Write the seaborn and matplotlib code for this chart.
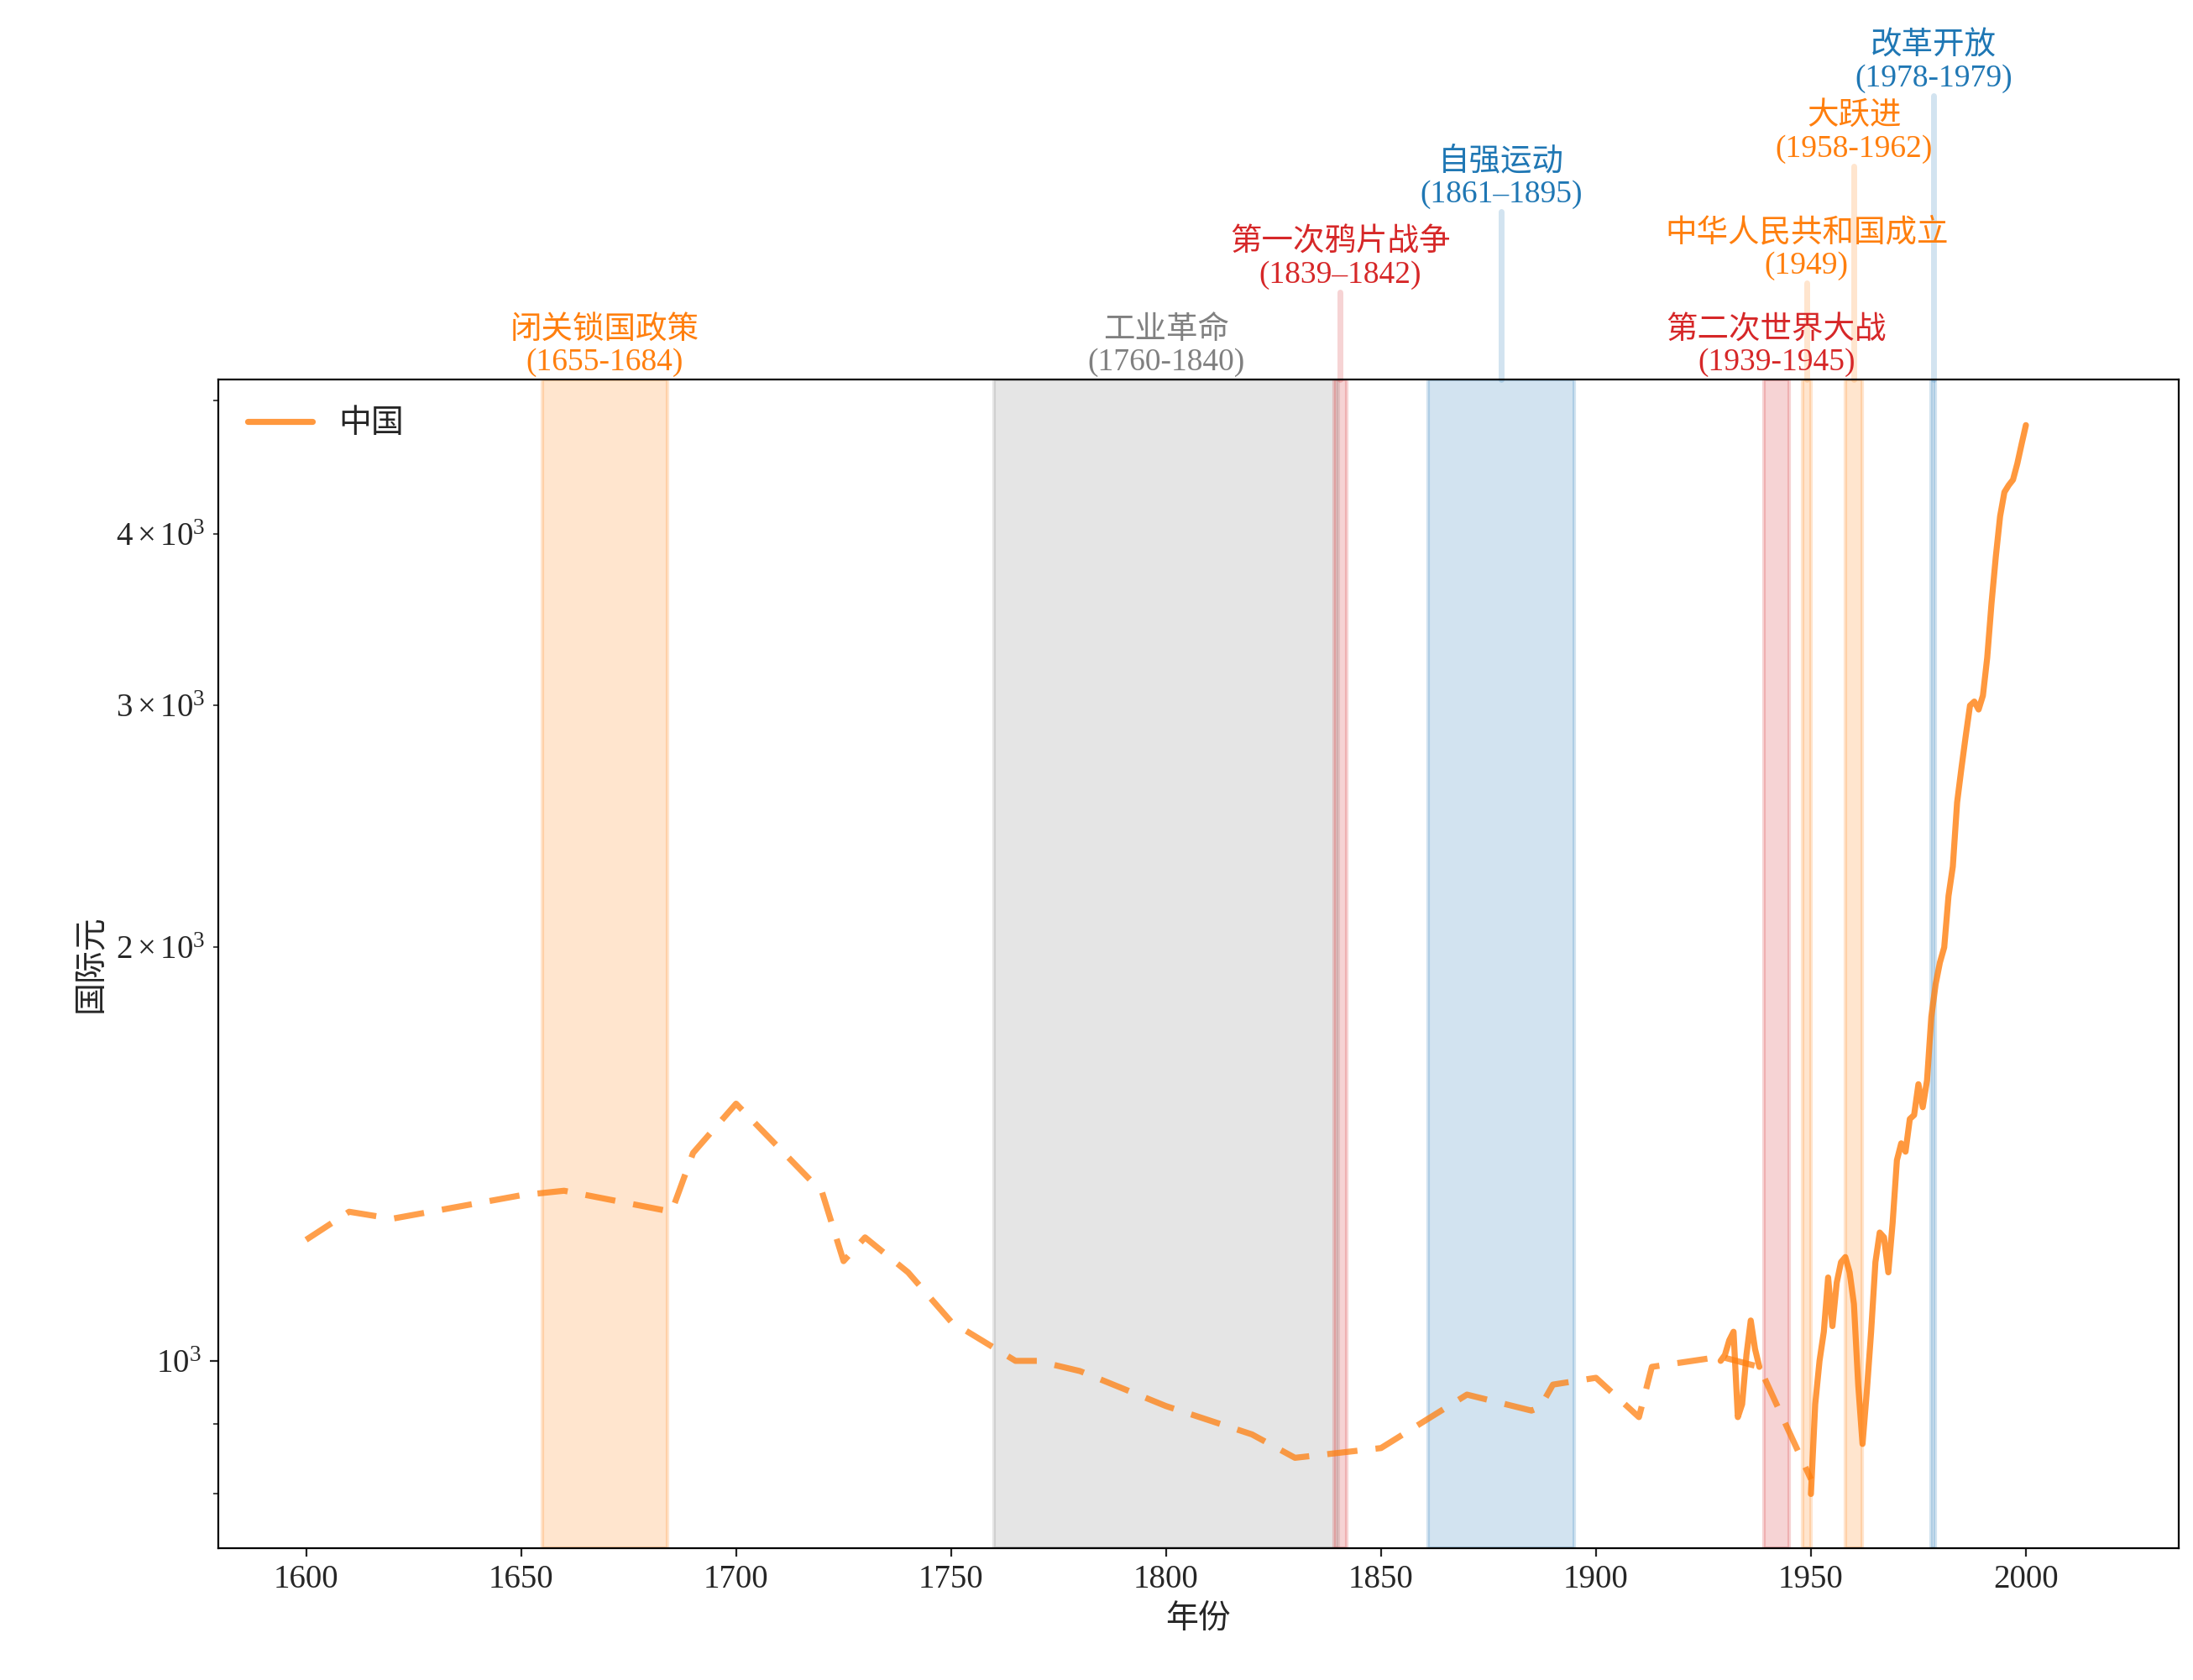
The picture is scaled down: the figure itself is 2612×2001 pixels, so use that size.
import numpy as np
import pandas as pd
import seaborn as sns
import matplotlib.pyplot as plt
import matplotlib.transforms as mtransforms
from matplotlib.ticker import MultipleLocator

# sparse long-run estimates (dashed)
sparse_years = [1600, 1610, 1620, 1650, 1660, 1685, 1690, 1700, 1720, 1725, 1730, 1740, 1750,
                1765, 1770, 1780, 1800, 1820, 1830, 1850, 1870, 1885, 1887, 1890, 1900, 1910,
                1913, 1929, 1938, 1950]
sparse_gdp = [1225, 1284, 1269, 1320, 1330, 1284, 1417, 1539, 1327, 1182, 1230, 1160, 1068,
              1000, 1000, 983, 927, 884, 850, 864, 945, 920, 925, 961, 972, 910,
              990, 1007, 990, 820]

# annual estimates (solid)
annual_years = list(range(1929, 1939)) + list(range(1950, 2001))
annual_gdp = [1000, 1010, 1035, 1050, 910, 930, 1010, 1070, 1020, 990,
              800, 930, 1000, 1050, 1150, 1060, 1140, 1180, 1190, 1160, 1100, 960,
              870, 950, 1050, 1180, 1240, 1230, 1160, 1260, 1400, 1440, 1420, 1500,
              1510, 1590, 1530, 1600, 1780, 1880, 1950, 2000, 2180, 2290, 2550, 2700,
              2850, 3000, 3020, 2980, 3050, 3250, 3560, 3850, 4120, 4290, 4340, 4380,
              4500, 4650, 4800]

events = ["闭关锁国政策\n(1655-1684)", "工业革命\n(1760-1840)", "第一次鸦片战争\n(1839–1842)",
          "自强运动\n(1861–1895)", "第二次世界大战\n(1939-1945)", "中华人民共和国成立\n(1949)",
          "大跃进\n(1958-1962)", "改革开放\n(1978-1979)"]
event_start = [1655, 1760, 1839, 1861, 1939, 1948, 1958, 1978]
event_end = [1684, 1840, 1842, 1895, 1945, 1950, 1962, 1979]
event_color = ["#ff7f0e", "gray", "#d62728", "#1f77b4", "#d62728", "#ff7f0e", "#ff7f0e", "#1f77b4"]
label_height = [1.0, 1.0, 1.075, 1.144, 1.0, 1.083, 1.183, 1.243]

sns.set_style("white")
plt.rcParams["font.family"] = ["Liberation Serif", "Noto Sans CJK SC", "DejaVu Sans"]
plt.rcParams["mathtext.fontset"] = "stix"
plt.rcParams["axes.unicode_minus"] = False

fig = plt.figure(figsize=(13.06, 10.005), dpi=200)
ax = fig.add_axes([0.0994, 0.0787, 0.8942, 0.6953])

sparse = pd.DataFrame({"year": sparse_years, "gdp": sparse_gdp})
annual = pd.DataFrame({"year": annual_years, "gdp": annual_gdp})
annual_full = annual.set_index("year").reindex(range(1929, 2001)).reset_index()

ax.plot(sparse["year"], sparse["gdp"], color="#ff7f0e", alpha=0.75, lw=2.6, ls=(0, (5, 3)))
ax.plot(annual_full["year"], annual_full["gdp"], color="#ff7f0e", alpha=0.8, lw=2.6, label="中国")

trans = mtransforms.blended_transform_factory(ax.transData, ax.transAxes)
for label, s, e, c, h in zip(events, event_start, event_end, event_color, label_height):
    ax.axvspan(s, e, facecolor=c, alpha=0.2, edgecolor=c, lw=1.5)
    mid = (s + e) / 2
    if h > 1.0:
        ax.plot([mid, mid], [1.0, h], transform=trans, color=c, alpha=0.2, lw=2.5, clip_on=False)
    ax.text(mid, h + 0.002, label, transform=trans, color=c, ha="center", va="bottom",
            fontsize=13.5, linespacing=1.15)

ax.set_yscale("log")
ax.set_xlim(1579.5, 2035.6)
ax.set_ylim(731, 5180)
ax.xaxis.set_major_locator(MultipleLocator(50))
ax.set_xlabel("年份", fontsize=14)
ax.set_ylabel("国际元", fontsize=14)
ax.tick_params(axis="both", labelsize=14, which="both", left=True, bottom=True)
for sp in ax.spines.values():
    sp.set_color("black")
ax.legend(loc="upper left", frameon=False, fontsize=14)

fig.savefig("out.png", dpi=200)
